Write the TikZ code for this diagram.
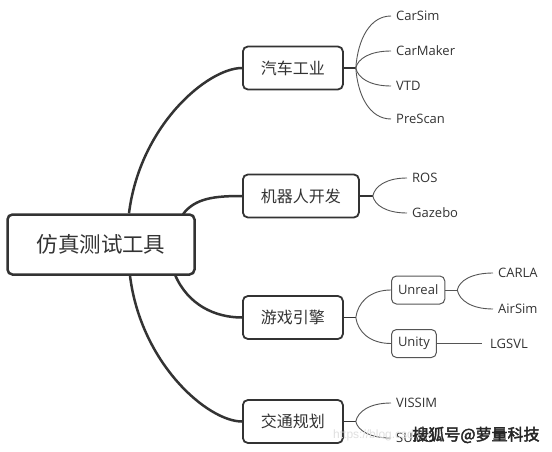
\documentclass[tikz,border=0pt]{standalone}
\usepackage{fontspec}
\setmainfont{Open Sans}
\newfontfamily\cjk{Noto Sans CJK SC}
\newfontfamily\wmfont{Noto Sans CJK SC}[FakeBold=2.5]
\newfontfamily\urlfont{Liberation Sans}
\usetikzlibrary{calc}
\definecolor{ink}{HTML}{333333}
\definecolor{thinc}{HTML}{555555}
\newcommand\branchto[2]{\draw[leaflink] (#1) .. controls ($(#1)!.55!(#1|-#2.west)+(2,0)$) and ($(#2.west)!.6!(#2.west-|#1)$) .. (#2.west);}
\tikzset{
  rootbox/.style={draw=ink, line width=2.5pt, rounded corners=5pt, fill=white, text=ink,
    font=\cjk\fontsize{21.5}{24}\selectfont, inner xsep=29pt, minimum height=60pt},
  topic/.style={draw=ink, line width=1.8pt, rounded corners=5pt, fill=white, text=ink,
    font=\cjk\fontsize{16}{19}\selectfont, inner xsep=18pt, minimum height=43pt, anchor=west},
  subtopic/.style={draw=thinc, line width=1pt, rounded corners=5pt, fill=white, text=ink,
    font=\fontsize{13}{15}\selectfont, inner xsep=6.5pt, minimum height=28pt, anchor=west},
  leaf/.style={text=ink, font=\fontsize{13}{15}\selectfont, inner xsep=5pt, inner ysep=2pt, anchor=west},
  mainlink/.style={draw=ink, line width=2.5pt},
  stublink/.style={draw=ink, line width=1.5pt},
  leaflink/.style={draw=thinc, line width=0.9pt},
  wmtext/.style={font=\wmfont\fontsize{16}{18}\selectfont, inner sep=0pt}
}
\begin{document}
\begin{tikzpicture}[x=1pt,y=-1pt]
\useasboundingbox (0,0) rectangle (552,452);
\fill[white] (0,0) rectangle (552,452);

% main nodes
\node[rootbox] (root) at (101,244.5) {仿真测试工具};
\node[topic] (car) at (242,68) {汽车工业};
\node[topic] (robot) at (242,196) {机器人开发};
\node[topic] (game) at (242,317.5) {游戏引擎};
\node[topic] (traffic) at (242,421.5) {交通规划};

% root connectors
\draw[mainlink] ($(root.north)+(28,0)$) .. controls (140,125) and (208,68) .. (car.west);
\draw[mainlink] ($(root.north)+(82,1)$) .. controls (195,198) and (215,196) .. (robot.west);
\draw[mainlink] ($(root.south)+(74,-1)$) .. controls (188,305) and (215,317.5) .. (game.west);
\draw[mainlink] ($(root.south)+(29,0)$) .. controls (141,364) and (208,421.5) .. (traffic.west);

% car industry
\coordinate (bcar) at ($(car.east)+(12,0)$);
\draw[stublink] (car.east) -- (bcar);
\node[leaf] (carsim) at (391,16) {CarSim};
\node[leaf] (carmaker) at (391,51) {CarMaker};
\node[leaf] (vtd) at (391,86) {VTD};
\node[leaf] (prescan) at (391,119) {PreScan};
\branchto{bcar}{carsim}
\branchto{bcar}{carmaker}
\branchto{bcar}{vtd}
\branchto{bcar}{prescan}

% robot
\coordinate (brobot) at ($(robot.east)+(13,0)$);
\draw[stublink] (robot.east) -- (brobot);
\node[leaf] (ros) at (407,178) {ROS};
\node[leaf] (gazebo) at (407,213) {Gazebo};
\branchto{brobot}{ros}
\branchto{brobot}{gazebo}

% game engine
\coordinate (bgame) at ($(game.east)+(12,0)$);
\draw[stublink] (game.east) -- (bgame);
\node[subtopic] (unreal) at (391,290) {Unreal};
\node[subtopic] (unity) at (391,343.5) {Unity};
\branchto{bgame}{unreal}
\branchto{bgame}{unity}
\coordinate (bunreal) at ($(unreal.east)+(12,0)$);
\draw[leaflink] (unreal.east) -- (bunreal);
\node[leaf] (carla) at (493,273) {CARLA};
\node[leaf] (airsim) at (493,309) {AirSim};
\branchto{bunreal}{carla}
\branchto{bunreal}{airsim}
\node[leaf, inner xsep=8pt] (lgsvl) at (482,343.5) {LGSVL};
\draw[leaflink] (unity.east) -- (lgsvl.west);

% traffic
\coordinate (btraffic) at ($(traffic.east)+(12,0)$);
\draw[stublink] (traffic.east) -- (btraffic);
\node[leaf] (vissim) at (391,403) {VISSIM};
\node[leaf] (sumo) at (391,438) {SUMO};
\branchto{btraffic}{vissim}
\branchto{btraffic}{sumo}

% watermarks
\node[anchor=west, inner sep=0pt, text=black!12, font=\urlfont\fontsize{12}{14}\selectfont] (url) at (333,435) {https://blog.csdn.net};
\node[wmtext, text=black!85] (wm) at (476,435) {搜狐号@萝量科技};
\end{tikzpicture}
\end{document}
